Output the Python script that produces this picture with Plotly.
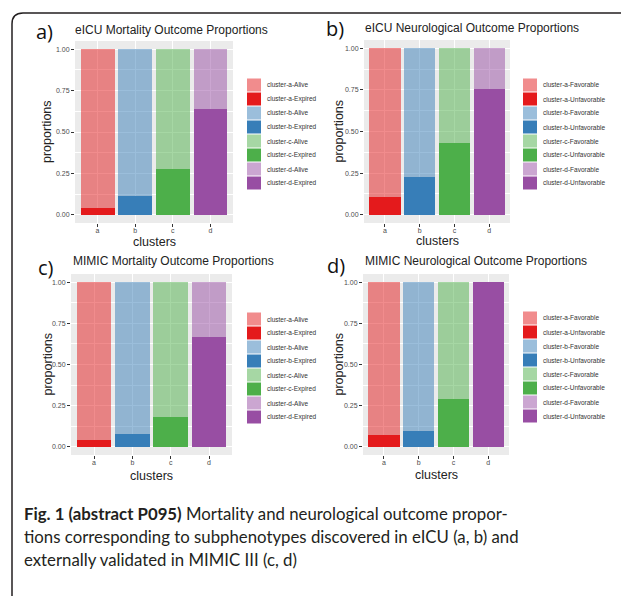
import plotly.graph_objects as go

W, H = 621, 596

clusters = ["a", "b", "c", "d"]
set1_colors = ["#E41A1C", "#377EB8", "#4DAF4A", "#984EA3"]

eicu_mort_expired = [0.042, 0.115, 0.276, 0.638]
eicu_mort_alive = [0.958, 0.885, 0.724, 0.362]
eicu_neuro_unfav = [0.109, 0.225, 0.429, 0.755]
eicu_neuro_fav = [0.891, 0.775, 0.571, 0.245]
mimic_mort_expired = [0.042, 0.077, 0.180, 0.665]
mimic_mort_alive = [0.958, 0.923, 0.820, 0.335]
mimic_neuro_unfav = [0.071, 0.095, 0.293, 1.000]
mimic_neuro_fav = [0.929, 0.905, 0.707, 0.000]

y_ticks = [0, 0.25, 0.5, 0.75, 1.0]

panels = [
    dict(label="a)", title="eICU Mortality Outcome Proportions",
         bottom=eicu_mort_expired, top=eicu_mort_alive, names=("Alive", "Expired"),
         box=(75, 233, 41, 223), title_pos=(73, 30), label_pos=(34, 31),
         leg=(247, 78), ytitle_x=47, xtitle_y=242),
    dict(label="b)", title="eICU Neurological Outcome Proportions",
         bottom=eicu_neuro_unfav, top=eicu_neuro_fav, names=("Favorable", "Unfavorable"),
         box=(364, 510, 40, 223), title_pos=(363, 28), label_pos=(324, 28),
         leg=(523, 78), ytitle_x=338, xtitle_y=241),
    dict(label="c)", title="MIMIC Mortality Outcome Proportions",
         bottom=mimic_mort_expired, top=mimic_mort_alive, names=("Alive", "Expired"),
         box=(71, 232, 274, 455), title_pos=(71, 261), label_pos=(36, 267),
         leg=(247, 312), ytitle_x=47, xtitle_y=476),
    dict(label="d)", title="MIMIC Neurological Outcome Proportions",
         bottom=mimic_neuro_unfav, top=mimic_neuro_fav, names=("Favorable", "Unfavorable"),
         box=(363, 509, 274, 455), title_pos=(363, 261), label_pos=(325, 265),
         leg=(523, 311), ytitle_x=338, xtitle_y=475),
]


def fx(x):
    return x / W


def fy(y):
    return 1 - y / H


fig = go.Figure()
annotations = []
shapes = []
layout_axes = {}

for i, p in enumerate(panels):
    n = "" if i == 0 else str(i + 1)
    xa, ya = "x" + n, "y" + n
    for ci, c in enumerate(clusters):
        fig.add_trace(go.Bar(x=[c], y=[p["bottom"][ci]], xaxis=xa, yaxis=ya,
                             marker=dict(color=set1_colors[ci], line=dict(width=0)),
                             width=0.9, showlegend=False,
                             name=f"cluster-{c}-{p['names'][1]}"))
    for ci, c in enumerate(clusters):
        fig.add_trace(go.Bar(x=[c], y=[p["top"][ci]], xaxis=xa, yaxis=ya,
                             marker=dict(color=set1_colors[ci], opacity=0.5, line=dict(width=0)),
                             width=0.9, showlegend=False,
                             name=f"cluster-{c}-{p['names'][0]}"))
    x0, x1, y0, y1 = p["box"]
    layout_axes["xaxis" + n] = dict(
        domain=[fx(x0), fx(x1)], anchor=ya, type="category",
        categoryorder="array", categoryarray=clusters, range=[-0.6, 3.6],
        showgrid=True, gridcolor="white", gridwidth=1, zeroline=False,
        showline=False, ticks="outside", ticklen=3, tickcolor="#333333",
        ticklabelstandoff=-2,
        tickfont=dict(family="Liberation Sans", size=7, color="#4D4D4D"),
        automargin=False, fixedrange=True)
    layout_axes["yaxis" + n] = dict(
        domain=[fy(y1), fy(y0)], anchor=xa, range=[-0.05, 1.05],
        tickvals=y_ticks, tickformat=".2f",
        showgrid=True, gridcolor="white", gridwidth=1, zeroline=False,
        showline=False, ticks="outside", ticklen=3, tickcolor="#333333",
        tickfont=dict(family="Liberation Sans", size=7, color="#4D4D4D"),
        minor=dict(tickvals=[0.125, 0.375, 0.625, 0.875], showgrid=True,
                   gridcolor="white", gridwidth=0.5, ticks=""),
        automargin=False, fixedrange=True)
    # panel background
    shapes.append(dict(type="rect", xref=xa + " domain", yref=ya + " domain",
                       x0=0, x1=1, y0=0, y1=1, fillcolor="#EBEBEB",
                       line=dict(width=0), layer="below"))
    # title and panel label
    annotations.append(dict(text=p["title"], x=fx(p["title_pos"][0]), y=fy(p["title_pos"][1]),
                            xref="paper", yref="paper", xanchor="left", yanchor="middle",
                            showarrow=False,
                            font=dict(family="Liberation Sans", size=12, color="#222222")))
    annotations.append(dict(text=p["label"], x=fx(p["label_pos"][0]), y=fy(p["label_pos"][1]),
                            xref="paper", yref="paper", xanchor="left", yanchor="middle",
                            showarrow=False,
                            font=dict(family="Open Sans", size=20, color="#111111")))
    # axis titles
    annotations.append(dict(text="proportions", x=fx(p["ytitle_x"]), y=fy((y0 + y1) / 2),
                            xref="paper", yref="paper", xanchor="center", yanchor="middle",
                            textangle=-90, showarrow=False,
                            font=dict(family="Liberation Sans", size=12.5, color="#222222")))
    annotations.append(dict(text="clusters", x=fx((x0 + x1) / 2), y=fy(p["xtitle_y"]),
                            xref="paper", yref="paper", xanchor="center", yanchor="middle",
                            showarrow=False,
                            font=dict(family="Liberation Sans", size=12.5, color="#222222")))
    # legend (swatches + labels)
    lx, ly = p["leg"]
    k = 0
    for ci, c in enumerate(clusters):
        for j, (nm, op) in enumerate(((p["names"][0], 0.5), (p["names"][1], 1.0))):
            top = ly + k * 14
            shapes.append(dict(type="rect", xref="paper", yref="paper",
                               x0=fx(lx), x1=fx(lx + 14), y0=fy(top + 13.5), y1=fy(top + 0.5),
                               fillcolor=set1_colors[ci], opacity=op, line=dict(width=0)))
            annotations.append(dict(text=f"cluster-{c}-{nm}", x=fx(lx + 18), y=fy(top + 7),
                                    xref="paper", yref="paper", xanchor="left", yanchor="middle",
                                    showarrow=False,
                                    font=dict(family="Liberation Sans", size=6.5, color="#333333")))
            k += 1

# frame: top line and left line with rounded corner
r = 11
shapes.append(dict(type="path", xref="paper", yref="paper",
                   path=f"M {fx(12)},{fy(H + 2)} L {fx(12)},{fy(13 + r)} "
                        f"Q {fx(12)},{fy(13)} {fx(12 + r)},{fy(13)} L {fx(W + 2)},{fy(13)}",
                   line=dict(color="#231F20", width=1.5)))

caption_lines = [
    "<b>Fig. 1 (abstract P095)</b> Mortality and neurological outcome propor-",
    "tions corresponding to subphenotypes discovered in eICU (a, b) and",
    "externally validated in MIMIC III (c, d)",
]
caption_y = [513, 536, 559]
for t, yy in zip(caption_lines, caption_y):
    annotations.append(dict(text=t, x=fx(22), y=fy(yy), xref="paper", yref="paper",
                            xanchor="left", yanchor="middle", showarrow=False,
                            font=dict(family="Lato", size=16.8, color="#231F20")))

fig.update_layout(
    width=W, height=H, margin=dict(l=0, r=0, t=0, b=0),
    paper_bgcolor="white", plot_bgcolor="rgba(0,0,0,0)",
    barmode="stack", showlegend=False,
    annotations=annotations, shapes=shapes,
    **layout_axes,
)

fig.write_html("out.html")
